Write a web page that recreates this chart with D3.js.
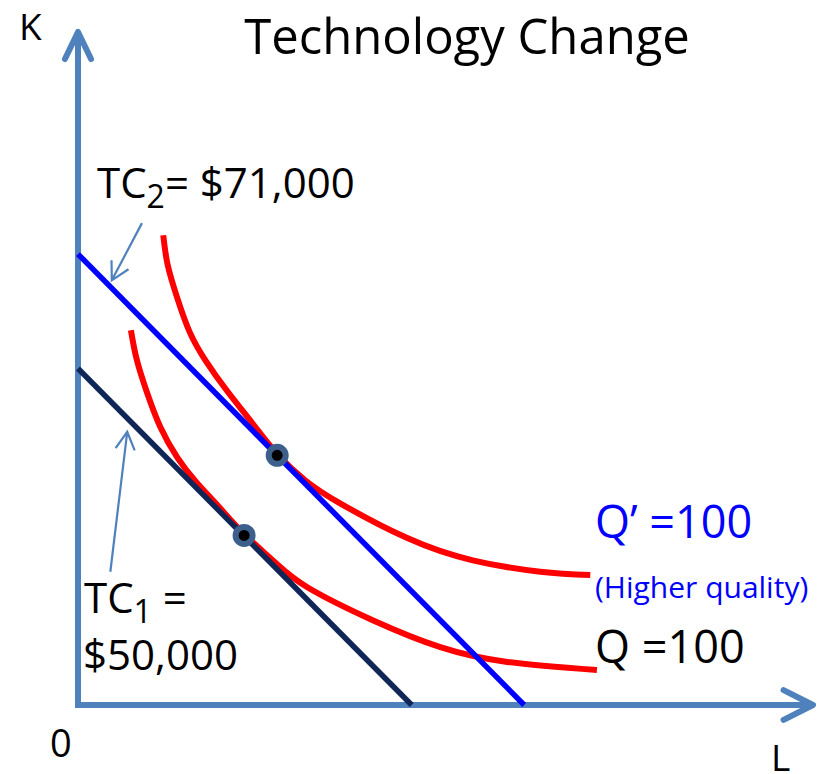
<!DOCTYPE html>
<html>
<head>
<meta charset="utf-8">
<script src="https://cdn.jsdelivr.net/npm/d3@7"></script>
<style>
  body { margin: 0; background: #fff; }
  text { font-family: "Open Sans", "Noto Sans", sans-serif; }
</style>
</head>
<body>
<svg width="823" height="774"></svg>
<script>
// values (L and K in chart units, 0..100)
var budgetTC1 = [[0, 50], [45.4, 0]];
var budgetTC2 = [[0, 67], [60.7, 0]];

var isoQ = [[7.2, 55.7], [8.0, 51.3], [9.4, 46.4], [11.2, 41.3], [13.5, 36.8], [16.1, 33.1],
            [19.2, 29.4], [22.6, 25.4], [26.8, 21.2], [31.2, 17.5], [40.1, 12.6], [49.3, 8.6],
            [58.4, 6.4], [70.6, 5.2]];
var isoQprime = [[11.6, 69.8], [12.2, 65.4], [13.5, 60.5], [15.2, 55.4], [17.4, 51.1], [20.4, 46.5],
                 [23.7, 41.9], [27.1, 37.3], [30.9, 33.4], [35.6, 30.0], [44.8, 24.8], [53.7, 21.5],
                 [62.9, 19.8], [69.7, 19.3]];

var tangents = [[22.6, 25.2], [27.1, 37.1]];

var svg = d3.select("svg"),
    width = +svg.attr("width"),
    height = +svg.attr("height");

var x = d3.scaleLinear().domain([0, 100]).range([78, 813]);
var y = d3.scaleLinear().domain([0, 100]).range([705, 32]);

var axisColor = "#4f81bd";

var line = d3.line()
    .x(function(d) { return x(d[0]); })
    .y(function(d) { return y(d[1]); });

var curve = d3.line()
    .x(function(d) { return x(d[0]); })
    .y(function(d) { return y(d[1]); })
    .curve(d3.curveNatural);

// open arrow head at tip, coming from "from"
function chevron(from, tip, len, ang) {
  var a = Math.atan2(from[1] - tip[1], from[0] - tip[0]);
  var p1 = [tip[0] + len * Math.cos(a + ang), tip[1] + len * Math.sin(a + ang)];
  var p2 = [tip[0] + len * Math.cos(a - ang), tip[1] + len * Math.sin(a - ang)];
  return "M" + p1 + "L" + tip + "L" + p2;
}

// axes
var x0 = x.range()[0], y0 = y.range()[0];
var xEnd = x.range()[1], yEnd = y.range()[1];
var axes = svg.append("g")
    .attr("stroke", axisColor)
    .attr("stroke-width", 6)
    .attr("fill", "none")
    .attr("stroke-linecap", "round")
    .attr("stroke-linejoin", "round");
axes.append("line").attr("x1", x0).attr("y1", y0 + 2).attr("x2", x0).attr("y2", yEnd + 2)
    .attr("stroke-linecap", "butt");
axes.append("line").attr("x1", x0 - 3).attr("y1", y0).attr("x2", xEnd - 2).attr("y2", y0)
    .attr("stroke-linecap", "butt");
axes.append("path").attr("d", chevron([x0, y0], [x0, yEnd], 30, 0.45));
axes.append("path").attr("d", chevron([x0, y0], [xEnd, y0], 33, 0.47));

// isoquants
svg.append("g").selectAll("path")
    .data([isoQ, isoQprime])
    .enter().append("path")
    .attr("d", curve)
    .attr("fill", "none")
    .attr("stroke", "#ff0000")
    .attr("stroke-width", 6);

// isocost lines
svg.append("path").datum(budgetTC1)
    .attr("d", line)
    .attr("stroke", "#0f2656")
    .attr("stroke-width", 5.5);
svg.append("path").datum(budgetTC2)
    .attr("d", line)
    .attr("stroke", "#0000ff")
    .attr("stroke-width", 5.5);

// tangency points
svg.append("g").selectAll("circle")
    .data(tangents)
    .enter().append("circle")
    .attr("cx", function(d) { return x(d[0]); })
    .attr("cy", function(d) { return y(d[1]); })
    .attr("r", 8.5)
    .attr("fill", "#000")
    .attr("stroke", "#3c5f8c")
    .attr("stroke-width", 6);

// label pointers
var pointers = [
  [[8.7, 71.6], [4.6, 63.1]],
  [[4.4, 19.8], [6.7, 40.6]]
];
pointers.forEach(function(p) {
  var a = [x(p[0][0]), y(p[0][1])], b = [x(p[1][0]), y(p[1][1])];
  svg.append("path")
      .attr("d", "M" + a + "L" + b + chevron(a, b, 20, 0.5))
      .attr("fill", "none")
      .attr("stroke", axisColor)
      .attr("stroke-width", 2.2);
});

// texts
svg.append("text")
    .attr("x", 467).attr("y", 54)
    .attr("text-anchor", "middle")
    .attr("font-size", 49)
    .text("Technology Change");

svg.append("text").attr("x", 19).attr("y", 40).attr("font-size", 37).text("K");
svg.append("text").attr("x", 771).attr("y", 771).attr("font-size", 37).text("L");
svg.append("text").attr("x", 50).attr("y", 757).attr("font-size", 38).text("0");

var tc2 = svg.append("text").attr("x", 97).attr("y", 198).attr("font-size", 42);
tc2.append("tspan").text("TC");
tc2.append("tspan").attr("font-size", 32).attr("dy", 10).text("2");
tc2.append("tspan").attr("dy", -10).text("= $71,000");

// two-line TC1 label in one text element
var tc1 = svg.append("text").attr("x", 84).attr("y", 613).attr("font-size", 42);
tc1.append("tspan").text("TC");
tc1.append("tspan").attr("font-size", 32).attr("dy", 10).text("1");
tc1.append("tspan").attr("dy", -10).text(" =");
tc1.append("tspan").attr("x", 83).attr("dy", 57).text("$50,000");

svg.append("text").attr("x", 595).attr("y", 538).attr("font-size", 45)
    .attr("fill", "#0000ff").text("Q\u2019 =100");
svg.append("text").attr("x", 595).attr("y", 598).attr("font-size", 30)
    .attr("fill", "#0000ff").text("(Higher quality)");
svg.append("text").attr("x", 595).attr("y", 663).attr("font-size", 45)
    .text("Q =100");
</script>
</body>
</html>
